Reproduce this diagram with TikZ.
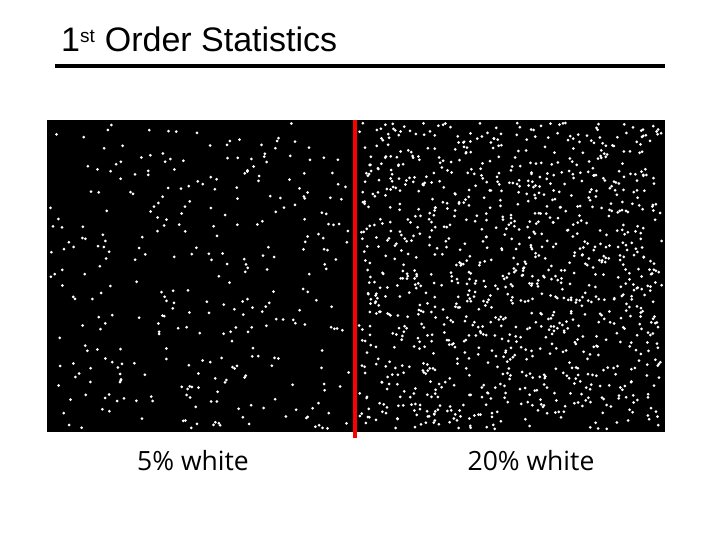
\documentclass[tikz,border=0pt]{standalone}
\usepackage{fontspec}
\setmainfont{Liberation Sans}
\newfontfamily\labelfont{Open Sans}
\begin{document}
\begin{tikzpicture}[x=1pt,y=-1pt,
  dotw/.style={fill=white,draw=none},
  lbl/.style={font=\labelfont\fontsize{26.5}{30}\selectfont,anchor=base,inner sep=0pt}]
\useasboundingbox (0,0) rectangle (720,540);
\node[anchor=base west,inner sep=0pt,font=\fontsize{34}{38}\selectfont] (title) at (61,52) {1\textsuperscript{\fontsize{19}{20}\selectfont st} Order Statistics};
\coordinate (ruleL) at (55,66);
\coordinate (ruleR) at (665,66);
\draw[line width=3.5pt] (ruleL) -- (ruleR);
\node[fill=black,draw=none,minimum width=618pt,minimum height=312pt,inner sep=0pt,anchor=north west] (img) at (47,120) {};
\pgfmathsetseed{4217}
\foreach \i in {1,...,330}{
  \pgfmathsetmacro{\px}{50+300*rnd}
  \pgfmathsetmacro{\py}{123+306*rnd}
  \fill[dotw] (\px,\py) circle (1.5);
}
\foreach \i in {1,...,1150}{
  \pgfmathsetmacro{\px}{359+303*rnd}
  \pgfmathsetmacro{\py}{123+306*rnd}
  \fill[dotw] (\px,\py) circle (1.5);
}
\coordinate (redT) at (354.5,120);
\coordinate (redB) at (354.5,438);
\draw[red,line width=4pt] (redT) -- (redB);
\node[lbl] (l5) at (193,470) {5\% white};
\node[lbl] (l20) at (531,470) {20\% white};
\end{tikzpicture}
\end{document}
